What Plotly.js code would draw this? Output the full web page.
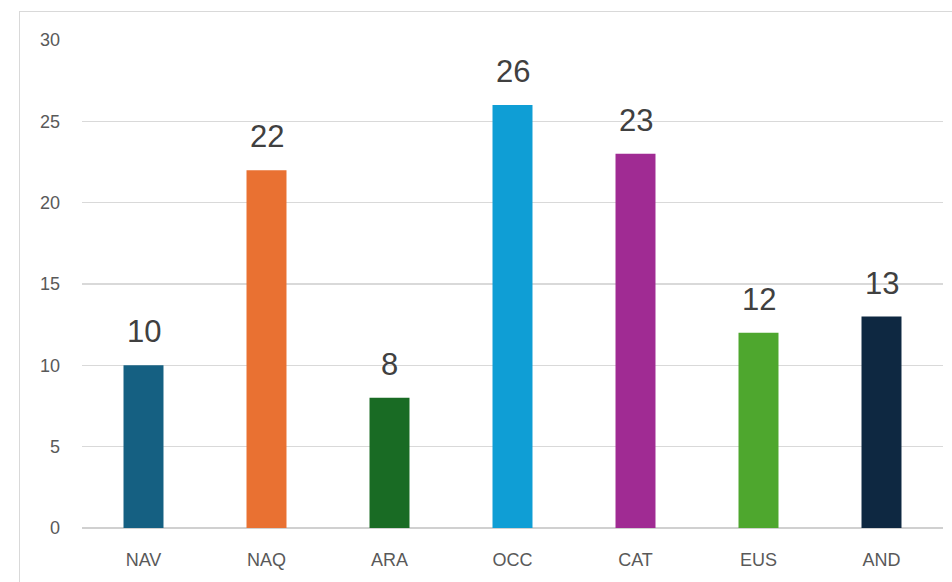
<!DOCTYPE html>
<html>
<head>
<meta charset="utf-8">
<script src="https://cdn.plot.ly/plotly-3.0.1.min.js"></script>
<style>
html,body{margin:0;padding:0;background:#fff;}
#wrap{position:relative;width:952px;height:582px;overflow:hidden;}
#chart{position:absolute;left:0;top:0;width:952px;height:582px;}
#frame{position:absolute;left:19px;top:11px;width:960px;height:600px;border-left:1.5px solid #d9d9d9;border-top:1.5px solid #d9d9d9;pointer-events:none;}
</style>
</head>
<body>
<div id="wrap"><div id="chart"></div><div id="frame"></div></div>
<script>
const categories = ["NAV", "NAQ", "ARA", "OCC", "CAT", "EUS", "AND"];
const values = [10, 22, 8, 26, 23, 12, 13];
const barColors = ["#156082", "#E97132", "#196B24", "#0F9ED5", "#A02B93", "#4EA72E", "#0E2841"];
const yTicks = [0, 5, 10, 15, 20, 25, 30];

const trace = {
  type: "bar",
  x: categories,
  y: values,
  marker: {color: barColors, line: {width: 0}},
  hoverinfo: "x+y"
};

const annotations = categories.map((c, i) => ({
  x: c, y: values[i], xref: "x", yref: "y",
  text: String(values[i]), showarrow: false,
  yanchor: "bottom", yshift: 14,
  font: {family: "Liberation Sans, Arial, sans-serif", size: 31, color: "#404040"}
}));

const layout = {
  width: 952, height: 582,
  margin: {l: 82, r: 9, t: 40, b: 54},
  paper_bgcolor: "#ffffff", plot_bgcolor: "#ffffff",
  showlegend: false,
  bargap: 0.675,
  xaxis: {
    type: "category",
    showgrid: false, zeroline: false, showline: false,
    ticks: "", ticklabelstandoff: 19,
    tickfont: {family: "Liberation Sans, Arial, sans-serif", size: 18, color: "#595959"},
    fixedrange: true
  },
  yaxis: {
    range: [0, 30], tickvals: yTicks,
    showgrid: true, gridcolor: "#d9d9d9", gridwidth: 1.5,
    zeroline: true, zerolinecolor: "#d0d0d0", zerolinewidth: 1.5,
    showline: false, ticks: "", ticklabelstandoff: 21,
    tickfont: {family: "Liberation Sans, Arial, sans-serif", size: 18, color: "#595959"},
    fixedrange: true
  },
  annotations: annotations
};

Plotly.newPlot("chart", [trace], layout, {displayModeBar: false, staticPlot: true});
</script>
</body>
</html>
